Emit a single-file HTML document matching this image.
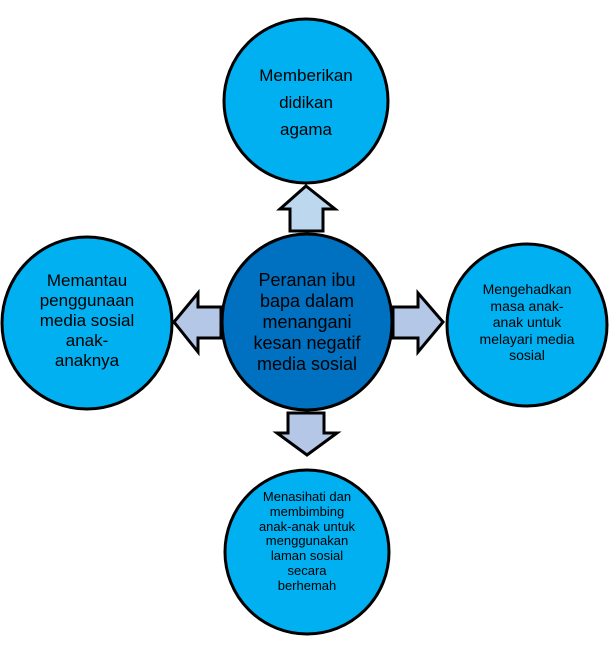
<html><head><style>
body{margin:0;width:609px;height:650px;background:#fff;position:relative;font-family:"Liberation Sans",sans-serif;overflow:hidden}
.t{position:absolute;text-align:center;color:#000;white-space:nowrap}
</style></head><body>
<svg width="609" height="650" style="position:absolute;left:0;top:0">
<g stroke="#000" stroke-width="3">
<ellipse cx="306" cy="101" rx="82" ry="82" fill="#00b0f0"/>
<ellipse cx="87" cy="323" rx="85" ry="86" fill="#00b0f0"/>
<ellipse cx="527" cy="325" rx="80" ry="81" fill="#00b0f0"/>
<ellipse cx="307" cy="552" rx="82" ry="82" fill="#00b0f0"/>
<ellipse cx="307" cy="322" rx="85" ry="88" fill="#0070c0"/>
<polygon points="306,186 335,209 323,209 323,231 290,231 290,209 280,209" fill="#bdd7ee"/>
<polygon points="174,322 198,293 198,307 221,307 221,338 198,338 198,352" fill="#b4c7e7"/>
<polygon points="443,322 418,293 418,307 393,307 393,338 418,338 418,352" fill="#b4c7e7"/>
<polygon points="307,455 337,433 324,433 324,413 288,413 288,433 277,433" fill="#b4c7e7"/>
</g></svg>
<div class="t" style="left:236px;top:62px;width:140px;font-size:17px;line-height:27px">Memberikan<br>didikan<br>agama</div>
<div class="t" style="left:17px;top:271px;width:140px;font-size:17px;line-height:20px">Memantau<br>penggunaan<br>media sosial<br>anak-<br>anaknya</div>
<div class="t" style="left:232px;top:270px;width:150px;font-size:18px;line-height:21px">Peranan ibu<br>bapa dalam<br>menangani<br>kesan negatif<br>media sosial</div>
<div class="t" style="left:457px;top:281px;width:140px;font-size:14px;line-height:16.5px">Mengehadkan<br>masa anak-<br>anak untuk<br>melayari media<br>sosial</div>
<div class="t" style="left:242px;top:490px;width:130px;font-size:13px;line-height:14.8px">Menasihati dan<br>membimbing<br>anak-anak untuk<br>menggunakan<br>laman sosial<br>secara<br>berhemah</div>
</body></html>
